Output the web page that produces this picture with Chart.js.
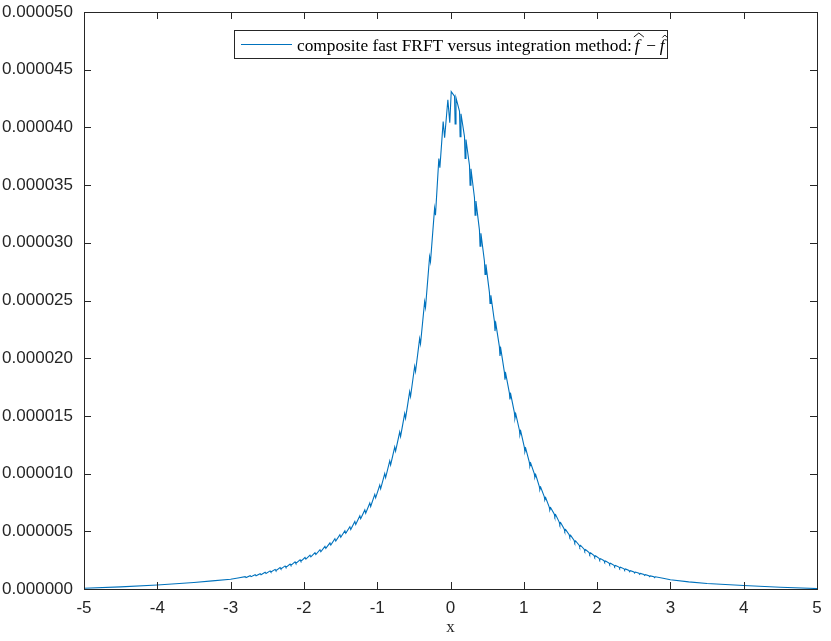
<!DOCTYPE html>
<html>
<head>
<meta charset="utf-8">
<script src="https://cdn.jsdelivr.net/npm/chart.js@4/dist/chart.umd.min.js"></script>
<style>
  body { margin: 0; background: #fff; }
  #wrap { width: 831px; height: 641px; }
</style>
</head>
<body>
<div id="wrap"><canvas id="chart" width="831" height="641"></canvas></div>
<script>
// x positions
const xValues = [
  -5, -4.5, -4, -3.5, -3.25, -3, -2.9,
  -2.801, -2.789, -2.733, -2.721, -2.665, -2.653, -2.597, -2.585, -2.529, -2.517,
  -2.461, -2.449, -2.393, -2.381, -2.325, -2.313, -2.257, -2.245, -2.189, -2.177,
  -2.121, -2.109, -2.053, -2.041, -1.985, -1.973, -1.917, -1.905, -1.849, -1.837,
  -1.781, -1.769, -1.713, -1.701, -1.645, -1.633, -1.577, -1.565, -1.509, -1.497,
  -1.441, -1.429, -1.373, -1.361, -1.305, -1.293, -1.237, -1.225, -1.169, -1.157,
  -1.101, -1.089, -1.033, -1.021, -0.965, -0.953, -0.897, -0.885, -0.829, -0.817,
  -0.761, -0.749, -0.693, -0.681, -0.625, -0.613, -0.557, -0.545, -0.489, -0.477,
  -0.421, -0.409, -0.353, -0.341, -0.285, -0.273, -0.217, -0.205, -0.159, -0.145,
  -0.1, -0.08, -0.036, -0.01, 0.01,
  0.055, 0.063, 0.075, 0.123, 0.131, 0.143, 0.191, 0.199, 0.211,
  0.259, 0.267, 0.279, 0.327, 0.335, 0.347, 0.395, 0.403, 0.415,
  0.463, 0.471, 0.483, 0.531, 0.539, 0.551, 0.599, 0.607, 0.619,
  0.667, 0.675, 0.687, 0.735, 0.743, 0.755, 0.803, 0.811, 0.823,
  0.871, 0.879, 0.891, 0.939, 0.947, 0.959, 1.007, 1.015, 1.027,
  1.075, 1.083, 1.095, 1.143, 1.151, 1.163, 1.211, 1.219, 1.231,
  1.279, 1.287, 1.299, 1.347, 1.355, 1.367, 1.415, 1.423, 1.435,
  1.483, 1.491, 1.503, 1.551, 1.559, 1.571, 1.619, 1.627, 1.639,
  1.687, 1.695, 1.707, 1.755, 1.763, 1.775, 1.823, 1.831, 1.843,
  1.891, 1.899, 1.911, 1.959, 1.967, 1.979, 2.027, 2.035, 2.047,
  2.095, 2.103, 2.115, 2.163, 2.171, 2.183, 2.231, 2.239, 2.251,
  2.299, 2.307, 2.319, 2.367, 2.375, 2.387, 2.435, 2.443, 2.455,
  2.503, 2.511, 2.523, 2.571, 2.579, 2.591, 2.639, 2.647, 2.659,
  2.707, 2.715, 2.727, 2.775, 2.783, 2.795,
  2.9, 3, 3.25, 3.5, 4, 4.5, 5
]

// error values, in units of 1e-6
const yValues = [
  0.06, 0.18, 0.35, 0.56, 0.7, 0.85, 0.96,
  1.07, 0.99, 1.15, 1.07, 1.24, 1.15, 1.33, 1.24, 1.45, 1.35,
  1.57, 1.47, 1.70, 1.59, 1.85, 1.74, 2.00, 1.88, 2.17, 2.05,
  2.35, 2.22, 2.53, 2.40, 2.73, 2.59, 2.93, 2.78, 3.15, 2.99,
  3.40, 3.23, 3.70, 3.52, 4.00, 3.81, 4.35, 4.15, 4.70, 4.49,
  5.05, 4.83, 5.40, 5.16, 5.85, 5.60, 6.35, 6.09, 6.85, 6.57,
  7.45, 7.15, 8.20, 7.90, 9.00, 8.68, 10.0, 9.66, 11.1, 10.75,
  12.3, 11.94, 13.6, 13.22, 15.2, 14.8, 17.1, 16.68, 19.3, 18.85,
  21.7, 21.25, 24.9, 24.4, 28.8, 28.35, 33.0, 32.4, 37.3, 36.5,
  40.5, 39.1, 42.4, 40.4, 43.1,
  42.7, 40.3, 42.57, 41.4, 39.2, 41.18, 39.2, 37.3, 38.95,
  36.7, 35.0, 36.42, 33.9, 32.4, 33.62, 31.1, 29.7, 30.83,
  28.4, 27.25, 28.13, 25.7, 24.75, 25.45, 23.2, 22.35, 22.98,
  21.0, 20.2, 20.78, 18.8, 18.13, 18.62, 17.0, 16.42, 16.83,
  15.3, 14.78, 15.15, 13.8, 13.35, 13.65, 12.3, 11.9, 12.17,
  11.0, 10.64, 10.9, 10.0, 9.67, 9.89, 8.9, 8.6, 8.81,
  8.0, 7.72, 7.91, 7.1, 6.84, 7.04, 6.5, 6.26, 6.43,
  5.8, 5.58, 5.74, 5.2, 5.0, 5.15, 4.7, 4.51, 4.65,
  4.2, 4.02, 4.16, 3.8, 3.63, 3.77, 3.45, 3.29, 3.42,
  3.15, 3.0, 3.13, 2.9, 2.76, 2.88, 2.65, 2.52, 2.63,
  2.45, 2.33, 2.43, 2.25, 2.13, 2.23, 2.05, 1.94, 2.04,
  1.9, 1.79, 1.89, 1.75, 1.65, 1.74, 1.6, 1.5, 1.59,
  1.48, 1.39, 1.47, 1.36, 1.27, 1.35, 1.25, 1.17, 1.24,
  1.15, 1.07, 1.14, 1.07, 0.99, 1.06,
  0.93, 0.8, 0.62, 0.48, 0.3, 0.15, 0.04
]

const legendText = 'composite fast FRFT versus integration method:'
const axisColor = '#262626'
const lineColor = '#0072BD'

const points = xValues.map((x, i) => ({ x: x, y: yValues[i] }))

// MATLAB-like box with inward ticks, plus the legend inside the axes
const boxPlugin = {
  id: 'box',
  afterDraw (chart) {
    const ctx = chart.ctx
    const a = chart.chartArea
    const xs = chart.scales.x
    const ys = chart.scales.y
    ctx.save()
    ctx.strokeStyle = axisColor
    ctx.lineWidth = 1
    ctx.strokeRect(Math.round(a.left) + 0.5, Math.round(a.top) + 0.5, Math.round(a.right - a.left), Math.round(a.bottom - a.top))
    ctx.beginPath()
    xs.ticks.forEach(t => {
      const px = Math.round(xs.getPixelForValue(t.value)) + 0.5
      ctx.moveTo(px, a.bottom); ctx.lineTo(px, a.bottom - 7)
      ctx.moveTo(px, a.top); ctx.lineTo(px, a.top + 7)
    })
    ys.ticks.forEach(t => {
      const py = Math.round(ys.getPixelForValue(t.value)) + 0.5
      ctx.moveTo(a.left, py); ctx.lineTo(a.left + 7, py)
      ctx.moveTo(a.right, py); ctx.lineTo(a.right - 7, py)
    })
    ctx.stroke()

    // legend
    ctx.fillStyle = '#fff'
    ctx.fillRect(234.5, 30.5, 433, 28)
    ctx.strokeRect(234.5, 30.5, 433, 28)
    ctx.beginPath()
    ctx.strokeStyle = lineColor
    ctx.lineWidth = 1.1
    ctx.moveTo(241, 44.5)
    ctx.lineTo(292, 44.5)
    ctx.stroke()

    ctx.font = '15px "Liberation Serif"'
    const w = ctx.measureText(legendText).width
    const size = 15 * 335 / w
    ctx.font = size + 'px "Liberation Serif"'
    ctx.fillStyle = '#000'
    ctx.textBaseline = 'alphabetic'
    ctx.fillText(legendText, 297, 50.5)
    const x0 = 297 + ctx.measureText(legendText).width + 1
    ctx.font = 'italic ' + size + 'px "Liberation Serif"'
    ctx.fillText('f', x0 + 2, 50.5)
    ctx.font = size + 'px "Liberation Serif"'
    ctx.fillText('\u2212', x0 + 13.5, 50.5)
    ctx.font = 'italic ' + size + 'px "Liberation Serif"'
    ctx.fillText('f', x0 + 27, 50.5)
    // hats
    ctx.strokeStyle = '#000'
    ctx.lineWidth = 0.9
    ctx.beginPath()
    ctx.moveTo(x0 + 1, 37); ctx.lineTo(x0 + 6, 33); ctx.lineTo(x0 + 11, 37)
    ctx.moveTo(x0 + 29.5, 37.5); ctx.lineTo(x0 + 32, 35); ctx.lineTo(x0 + 34.5, 37.5)
    ctx.stroke()
    ctx.restore()
  }
}

new Chart(document.getElementById('chart'), {
  type: 'scatter',
  data: {
    datasets: [{
      data: points,
      showLine: true,
      borderColor: lineColor,
      borderWidth: 1.1,
      pointRadius: 0,
      tension: 0
    }]
  },
  options: {
    responsive: false,
    animation: false,
    layout: { padding: { top: 12, right: 14, left: 0, bottom: 0 } },
    plugins: { legend: { display: false }, tooltip: { enabled: false } },
    scales: {
      x: {
        type: 'linear',
        min: -5,
        max: 5,
        grid: { display: false, drawTicks: false },
        border: { display: false },
        ticks: {
          stepSize: 1,
          padding: 9,
          color: axisColor,
          font: { family: '"Liberation Sans", Arial', size: 17 },
          callback: v => String(v)
        },
        title: {
          display: true,
          text: 'x',
          color: axisColor,
          font: { family: '"Liberation Serif"', size: 17 },
          padding: { top: 0, bottom: 3 }
        },
        afterFit: s => {
          s.height = 52
          s.paddingLeft = 0
          s.paddingRight = 0
        }
      },
      y: {
        min: 0,
        max: 50,
        grid: { display: false, drawTicks: false },
        border: { display: false },
        ticks: {
          stepSize: 5,
          padding: 11,
          color: axisColor,
          font: { family: '"Liberation Sans", Arial', size: 17 },
          callback: v => (v / 1e6).toFixed(6)
        },
        afterFit: s => {
          s.width = 84
          s.paddingTop = 0
          s.paddingBottom = 0
        }
      }
    }
  },
  plugins: [boxPlugin]
})
</script>
</body>
</html>
